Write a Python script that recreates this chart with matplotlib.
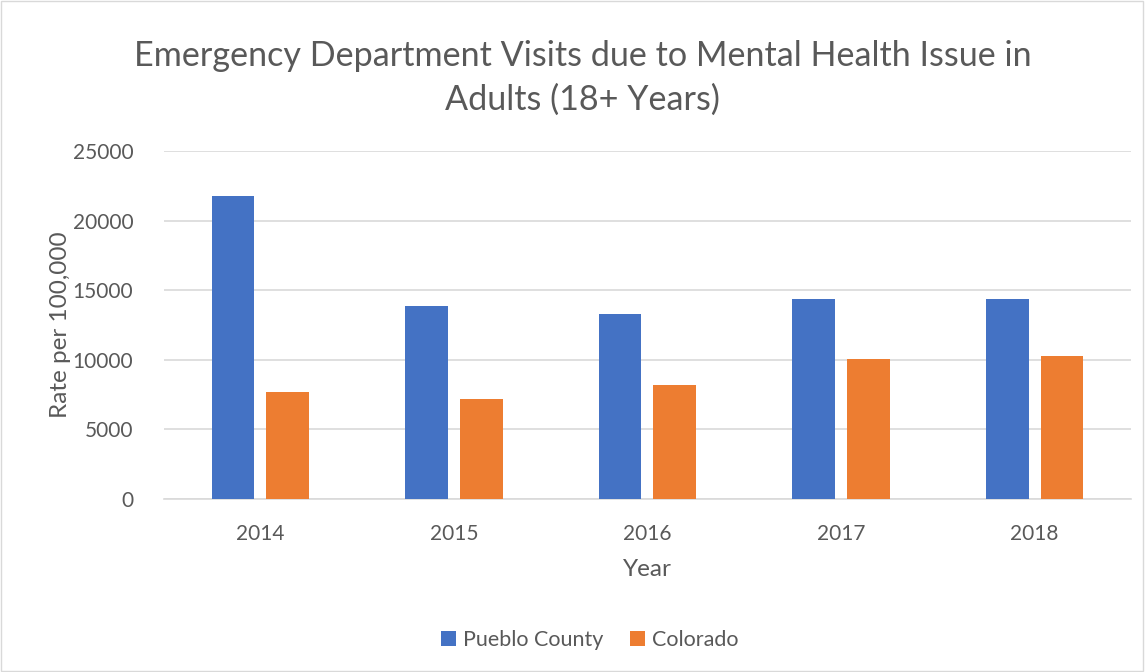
import matplotlib
matplotlib.use("Agg")
import matplotlib.pyplot as plt
import numpy as np

years = ["2014", "2015", "2016", "2017", "2018"]
pueblo = [21770, 13870, 13270, 14350, 14370]
colorado = [7710, 7190, 8190, 10030, 10270]

plt.rcParams['font.family'] = ['Lato', 'DejaVu Sans']
txt = '#595959'

fig = plt.figure(figsize=(11.45, 6.72), dpi=100)
ax = fig.add_axes([0.143, 0.2574, 0.845, 0.5176])

x = np.arange(len(years))
w = 0.222
gap = 0.062
ax.bar(x - (w + gap) / 2, pueblo, w, color='#4472C4', label='Pueblo County', zorder=3)
ax.bar(x + (w + gap) / 2, colorado, w, color='#ED7D31', label='Colorado', zorder=3)

ax.set_xlim(-0.5, len(years) - 0.5)
ax.set_ylim(0, 25000)
ax.set_yticks(range(0, 25001, 5000))
ax.set_xticks(x)
ax.set_xticklabels(years)
ax.yaxis.grid(True, color='#d9d9d9', linewidth=1.2, zorder=0)
for s in ['top', 'right', 'left']:
    ax.spines[s].set_visible(False)
ax.spines['bottom'].set_color('#d9d9d9')
ax.spines['bottom'].set_linewidth(1.2)
ax.tick_params(axis='both', length=0, colors=txt, labelsize=15)
ax.tick_params(axis='y', pad=22)
ax.tick_params(axis='x', pad=18)

ax.set_xlabel('Year', fontsize=17.5, color=txt, labelpad=11)
ax.set_ylabel('Rate per 100,000', fontsize=17.5, color=txt, labelpad=1)

fig.text(0.509, 0.884, 'Emergency Department Visits due to Mental Health Issue in\nAdults (18+ Years)',
         ha='center', va='center', fontsize=24.6, color=txt, linespacing=1.45)

fig.legend(loc='center', bbox_to_anchor=(0.515, 0.048), ncol=2, frameon=False,
           fontsize=15.5, labelcolor=txt, handlelength=0.7, handleheight=0.7,
           handletextpad=0.3, columnspacing=1.25)

border = plt.Rectangle((0.001, 0.001), 0.997, 0.997, transform=fig.transFigure,
                       fill=False, edgecolor='#d9d9d9', linewidth=1)
fig.patches.append(border)

fig.savefig('out.png', dpi=100)
